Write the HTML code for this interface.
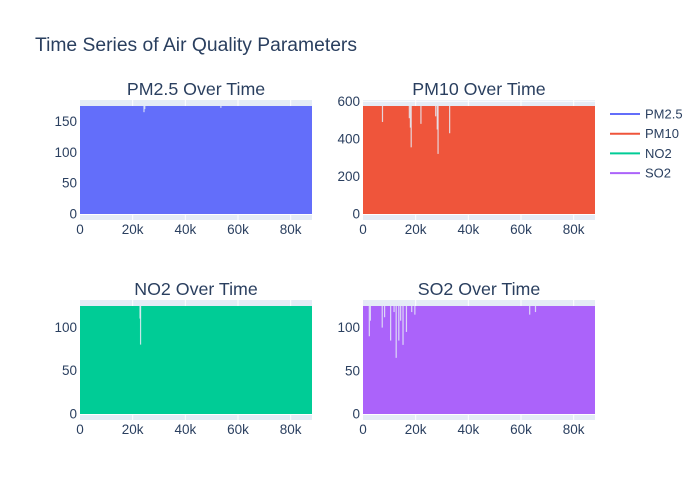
<!DOCTYPE html>
<html><head><meta charset="utf-8"><style>
body{margin:0;background:#fff;}
svg{display:block;font-family:"Liberation Sans",sans-serif;}
</style></head><body>
<svg id="chart" width="700" height="500"></svg>
<script>
const seriesNames = ['PM2.5','PM10','NO2','SO2'];
const seriesColors = ['#636efa','#EF553B','#00cc96','#ab63fa'];
const xMax = 88100;
const yMaxVals = [175, 575, 124.5, 125];
const yMinVals = [0, 0, 0, 0];
const yTicks = [[0,50,100,150],[0,200,400,600],[0,50,100],[0,50,100]];
const xTicks = [0,20000,40000,60000,80000];
const xTickLabels = ['0','20k','40k','60k','80k'];
// dips: [x, y] where the top envelope drops
const dips = [
  [[24300,165],[24600,170],[53500,172]],
  [[7400,490],[17600,510],[18000,460],[18300,355],[22000,480],[27600,520],[28200,450],[28500,320],[32900,430]],
  [[22800,110],[23000,80]],
  [[2400,90],[2800,108],[7300,100],[8200,112],[10500,85],[11800,118],[12600,65],[13600,85],[14300,108],[15200,80],[16500,95],[18500,118],[19700,115],[63300,115],[65500,118]]
];
const domains = [
  {x0:80,x1:312,y0:100,y1:220},
  {x0:363,x1:595,y0:100,y1:220},
  {x0:80,x1:312,y0:300,y1:420},
  {x0:363,x1:595,y0:300,y1:420}
];
const NS='http://www.w3.org/2000/svg';
const svg=document.getElementById('chart');
function mk(tag,attrs,parent){const e=document.createElementNS(NS,tag);for(const k in attrs)e.setAttribute(k,attrs[k]);(parent||svg).appendChild(e);return e;}
const title=mk('text',{x:35,y:51,'font-size':19,fill:'#2a3f5f',textLength:322,lengthAdjust:'spacingAndGlyphs'});


title.textContent='Time Series of Air Quality Parameters';
seriesNames.forEach((name,i)=>{
  const d=domains[i];
  const lo=yMinVals[i],hi=yMaxVals[i],span=hi-lo;
  const r0=lo-span*0.0556,r1=hi+span*0.0556;
  const xs=v=>d.x0+v/xMax*(d.x1-d.x0);
  const ys=v=>d.y1-(v-r0)/(r1-r0)*(d.y1-d.y0);
  const g=mk('g',{});
  
  
  const bg=mk('rect',{x:d.x0,y:d.y0,width:d.x1-d.x0,height:d.y1-d.y0,fill:'#e5ecf6'},g);
  
  
  xTicks.forEach((t,k)=>{
    const x=xs(t);
    if(k>0)mk('line',{x1:x,x2:x,y1:d.y0,y2:d.y1,stroke:'#fff','stroke-width':1},g);
    const tl=mk('text',{x:x,y:d.y1+14,'font-size':13.5,fill:'#2a3f5f','text-anchor':'middle'},g);
    
    
    tl.textContent=xTickLabels[k];
  });
  yTicks[i].forEach(t=>{
    const y=ys(t);
    mk('line',{x1:d.x0,x2:d.x1,y1:y,y2:y,stroke:'#fff','stroke-width':t===0?2:1},g);
    const tl=mk('text',{x:d.x0-3,y:y+4.5,'font-size':13.5,fill:'#2a3f5f','text-anchor':'end'},g);
    
    
    tl.textContent=String(t);
  });
  const area=mk('rect',{x:xs(0),y:ys(hi),width:xs(xMax)-xs(0),height:ys(lo)-ys(hi),fill:seriesColors[i]},g);
  
  
  dips[i].forEach(p=>{
    const dl=mk('line',{x1:xs(p[0]),x2:xs(p[0]),y1:ys(hi),y2:ys(p[1]),stroke:'#e5ecf6','stroke-width':1.2,opacity:0.85},g);
    
    
  });
  const st=mk('text',{x:(d.x0+d.x1)/2,y:d.y0-5,'font-size':17.8,fill:'#2a3f5f','text-anchor':'middle'},g);
  
  
  st.textContent=name+' Over Time';
  const lg=mk('g',{});
  
  
  const ly=114+i*19.7;
  mk('line',{x1:610,x2:640,y1:ly,y2:ly,stroke:seriesColors[i],'stroke-width':2},lg);
  const lt=mk('text',{x:645,y:ly+4.5,'font-size':13,fill:'#2a3f5f'},lg);
  lt.textContent=name;
});
</script>
</body></html>
